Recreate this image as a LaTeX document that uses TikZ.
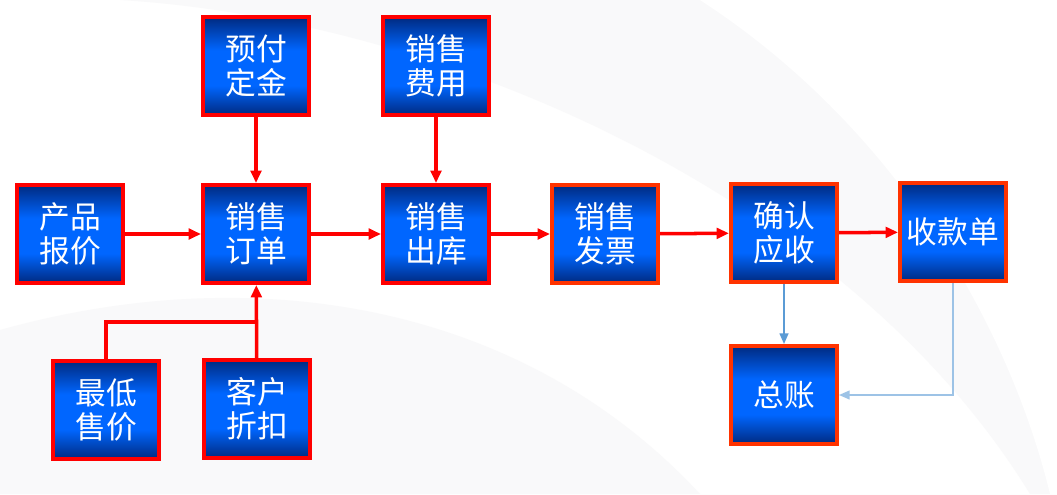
\documentclass[tikz,border=0pt]{standalone}
\usepackage{fontspec}
\setmainfont{Noto Sans CJK SC}
\usetikzlibrary{arrows.meta}
\definecolor{boxred}{HTML}{FF0000}
\definecolor{boxorange}{HTML}{FF3300}
\definecolor{boxdark}{HTML}{002A80}
\definecolor{boxblue}{HTML}{0066FF}
\definecolor{linkblue}{HTML}{5B9BD5}
\definecolor{linklight}{HTML}{9DC3E6}
\definecolor{swoosh}{HTML}{F9F9FA}
\pgfdeclareverticalshading{boxshade}{100bp}{color(0bp)=(boxdark); color(25bp)=(boxdark);
  color(40bp)=(boxblue); color(58bp)=(boxblue); color(75bp)=(boxdark); color(100bp)=(boxdark)}
\tikzset{
  box/.style={draw=boxred, line width=2.3pt, minimum width=2.12cm, minimum height=1.96cm,
    inner sep=0pt, shading=boxshade,
    text=white, align=center, font=\fontsize{17.5}{19.5}\selectfont},
  obox/.style={box, draw=boxorange},
  redline/.style={draw=boxred, line width=2pt},
  redarrow/.style={redline, -{Triangle[length=7pt,width=6pt]}},
  bluearrow/.style={draw=linkblue, line width=0.9pt, -{Triangle[length=6pt,width=5pt]}},
  lightarrow/.style={draw=linklight, line width=0.9pt, -{Triangle[length=6pt,width=5pt]}}
}
\begin{document}
\begin{tikzpicture}[x=0.02cm,y=-0.02cm]
% background
\fill[white] (0,0) rectangle (1057,494);
\fill[swoosh] (600,0) .. controls (850,120) and (990,330) .. (1030,494)
  -- (0,494) -- (0,330) .. controls (250,260) and (520,300) .. (700,494)
  -- (1030,494) .. controls (990,330) and (850,120) .. (600,0) -- cycle;
\fill[swoosh] (120,0) .. controls (450,20) and (850,200) .. (1030,494)
  -- (1057,494) -- (1057,0) -- cycle;
\fill[white] (700,0) .. controls (900,130) and (1010,330) .. (1050,494) -- (1057,494) -- (1057,0) -- cycle;
% boxes
\node[box] (baojia) at (70,234) {产品\\报价};
\node[box] (dingdan) at (256,234) {销售\\订单};
\node[box] (dingjin) at (256,66) {预付\\定金};
\node[box] (feiyong) at (436,66) {销售\\费用};
\node[box] (chuku) at (436,234) {销售\\出库};
\node[obox] (fapiao) at (605,234) {销售\\发票};
\node[obox] (yingshou) at (784,233) {确认\\应收};
\node[obox] (shoukuan) at (953,232) {收款单};
\node[obox] (zongzhang) at (784,395) {总账};
\node[box] (shoujia) at (106,410) {最低\\售价};
\node[box] (zhekou) at (257,409) {客户\\折扣};
\coordinate (join) at (257,322);
% links
\draw[redarrow] (baojia) -- (dingdan);
\draw[redarrow] (dingjin) -- (dingdan);
\draw[redarrow] (dingdan) -- (chuku);
\draw[redarrow] (feiyong) -- (chuku);
\draw[redarrow] (chuku) -- (fapiao);
\draw[redarrow] (fapiao) -- (yingshou);
\draw[redarrow] (yingshou) -- (shoukuan);
\draw[redarrow] (zhekou) -- (dingdan);
\draw[redline] (shoujia) |- (join);
\draw[bluearrow] (yingshou) -- (zongzhang);
\draw[lightarrow] (shoukuan) |- (zongzhang);
\end{tikzpicture}
\end{document}
